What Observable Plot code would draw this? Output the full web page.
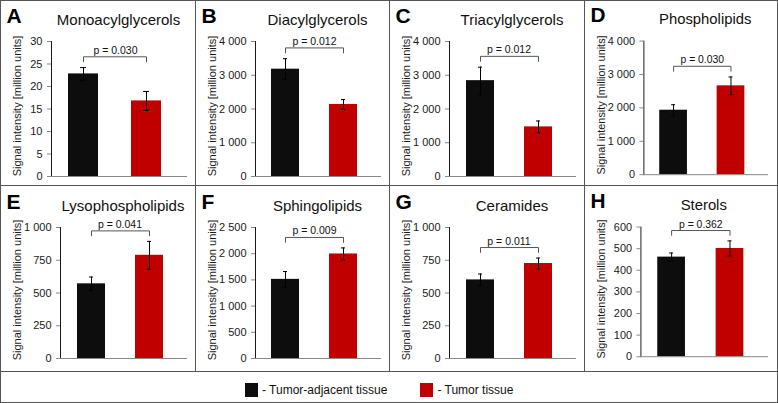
<!DOCTYPE html>
<html>
<head>
<meta charset="utf-8">
<script src="https://cdn.jsdelivr.net/npm/d3@7"></script>
<script src="https://cdn.jsdelivr.net/npm/@observablehq/plot@0.6"></script>
<style>
  html, body { margin: 0; padding: 0; background: #fff; }
  body { font-family: "Liberation Sans", Arial, sans-serif; }
  #fig { position: relative; width: 778px; height: 403px; box-sizing: border-box; border: 1px solid #555; overflow: hidden; }
  .panel { position: absolute; }
  .vline { position: absolute; width: 1px; background: #555; }
  .hline { position: absolute; height: 1px; background: #555; left: 0; width: 778px; }
  #legend { position: absolute; left: 244px; top: 382px; display: flex; align-items: center; font-size: 12px; color: #111; white-space: nowrap; }
  #legend .sw { display: inline-block; width: 13px; height: 14px; margin-right: 4px; }
  #legend .item { display: flex; align-items: center; margin-right: 33px; }
  svg g[aria-label="y-axis tick"] { stroke: #888; }
</style>
</head>
<body>
<div id="fig"></div>
<script>
// ---- data ----
const letters = ["A", "B", "C", "D", "E", "F", "G", "H"];
const lipidClasses = ["Monoacylglycerols", "Diacylglycerols", "Triacylglycerols", "Phospholipids",
                      "Lysophospholipids", "Sphingolipids", "Ceramides", "Sterols"];
const groups = ["Tumor-adjacent tissue", "Tumor tissue"];
const adjacentMean = [22.8, 3180, 2840, 1930, 570, 1510, 600, 461];
const adjacentErr  = [1.4, 310, 400, 165, 52, 150, 45, 19];
const tumorMean    = [16.8, 2135, 1470, 2660, 788, 1995, 725, 501];
const tumorErr     = [2.1, 145, 175, 265, 106, 115, 42, 35];
const pValues      = ["0.030", "0.012", "0.012", "0.030", "0.041", "0.009", "0.011", "0.362"];
const axisMax      = [30, 4000, 4000, 4000, 1000, 2500, 1000, 600];
const axisStep     = [5, 1000, 1000, 1000, 250, 500, 250, 100];
const yAxisLabel   = "Signal intensity [million units]";
const groupColors  = ["#0d0d0d", "#c00000"];

// ---- layout ----
const fig = document.getElementById("fig");
const W = 778, colW = W / 4;
const rowTop = [0, 185], rowH = [185, 187];
const fmt = d3.formatLocale({decimal: ".", thousands: " ", grouping: [3], currency: ["", ""]}).format(",");

letters.forEach((L, i) => {
  const col = i % 4, row = Math.floor(i / 4);
  const left = Math.round(col * colW), right = Math.round((col + 1) * colW);
  const width = right - left;
  const max = axisMax[i], step = axisStep[i];
  const ticks = d3.range(0, max + step / 2, step);
  const labelLen = d3.max(ticks, t => fmt(t).length);
  const mL = labelLen <= 2 ? 50 : labelLen === 3 ? 56 : 59;
  const mR = 17;
  const mT = row ? 41 : 40, mB = row ? 15 : 10;
  const rows = [
    {group: groups[0], mean: adjacentMean[i], err: adjacentErr[i]},
    {group: groups[1], mean: tumorMean[i], err: tumorErr[i]}
  ];
  const topVal = d3.max(rows, d => d.mean + d.err);
  const yB = topVal + 0.08 * max, yT = yB - 0.037 * max;
  const bracket = [
    {group: groups[0], y: yT}, {group: groups[0], y: yB},
    {group: groups[1], y: yB}, {group: groups[1], y: yT}
  ];
  const svg = Plot.plot({
    width, height: rowH[row],
    marginLeft: mL, marginRight: mR, marginTop: mT, marginBottom: mB,
    style: {fontFamily: "'Liberation Sans', Arial, sans-serif", fontSize: "11px", color: "#1a1a1a", background: "none", overflow: "visible"},
    x: {domain: groups, paddingInner: 0.52, paddingOuter: 0.27, align: 0.5, axis: null},
    y: {domain: [0, max], ticks, tickFormat: fmt, tickSize: 4, tickPadding: 5, label: null, line: true},
    color: {domain: groups, range: groupColors},
    marks: [
      Plot.barY(rows, {x: "group", y: "mean", fill: "group"}),
      Plot.ruleY([0], {stroke: "#888", insetRight: -8}),
      Plot.ruleX(rows, {x: "group", y1: d => d.mean - d.err, y2: d => d.mean + d.err, stroke: "#000"}),
      Plot.tickY(rows, {x: "group", y: d => d.mean + d.err, stroke: "#000", insetLeft: 12, insetRight: 12}),
      Plot.tickY(rows, {x: "group", y: d => d.mean - d.err, stroke: "#000", insetLeft: 12, insetRight: 12}),
      Plot.line(bracket, {x: "group", y: "y", stroke: "#555", strokeWidth: 1}),
      Plot.text([`p = ${pValues[i]}`], {y: yB, text: d => d, lineAnchor: "bottom", dy: -3, fontSize: 10.5, fill: "#111"}),
      Plot.text([lipidClasses[i]], {frameAnchor: "top", text: d => d, lineAnchor: "bottom", dy: -17, dx: 3, fontSize: 15, fill: "#111"}),
      Plot.text([L], {frameAnchor: "top-left", text: d => d, textAnchor: "start", lineAnchor: "bottom", dx: 5 - mL, dy: (row ? 22 : 21) - mT, fontSize: 21, fontWeight: "bold", fill: "#000"}),
      Plot.text([yAxisLabel], {frameAnchor: "left", text: d => d, rotate: -90, textAnchor: "middle", lineAnchor: "middle", dx: 16 - mL, dy: -3, fontSize: 11, fill: "#1a1a1a"})
    ]
  });
  const div = document.createElement("div");
  div.className = "panel";
  div.style.left = left + "px";
  div.style.top = rowTop[row] + "px";
  div.appendChild(svg);
  fig.appendChild(div);
});

// grid lines
[1, 2, 3].forEach(c => {
  const v = document.createElement("div");
  v.className = "vline";
  v.style.left = (Math.round(c * colW) - 1) + "px";
  v.style.top = "0px";
  v.style.height = "371px";
  fig.appendChild(v);
});
[185, 371].forEach(y => {
  const h = document.createElement("div");
  h.className = "hline";
  h.style.top = (y - 1) + "px";
  fig.appendChild(h);
});

// legend
const legend = document.createElement("div");
legend.id = "legend";
groups.forEach((g, k) => {
  const item = document.createElement("div");
  item.className = "item";
  const sw = document.createElement("span");
  sw.className = "sw";
  sw.style.background = groupColors[k];
  const t = document.createElement("span");
  t.textContent = "- " + g;
  item.appendChild(sw);
  item.appendChild(t);
  legend.appendChild(item);
});
fig.appendChild(legend);
</script>
</body>
</html>
